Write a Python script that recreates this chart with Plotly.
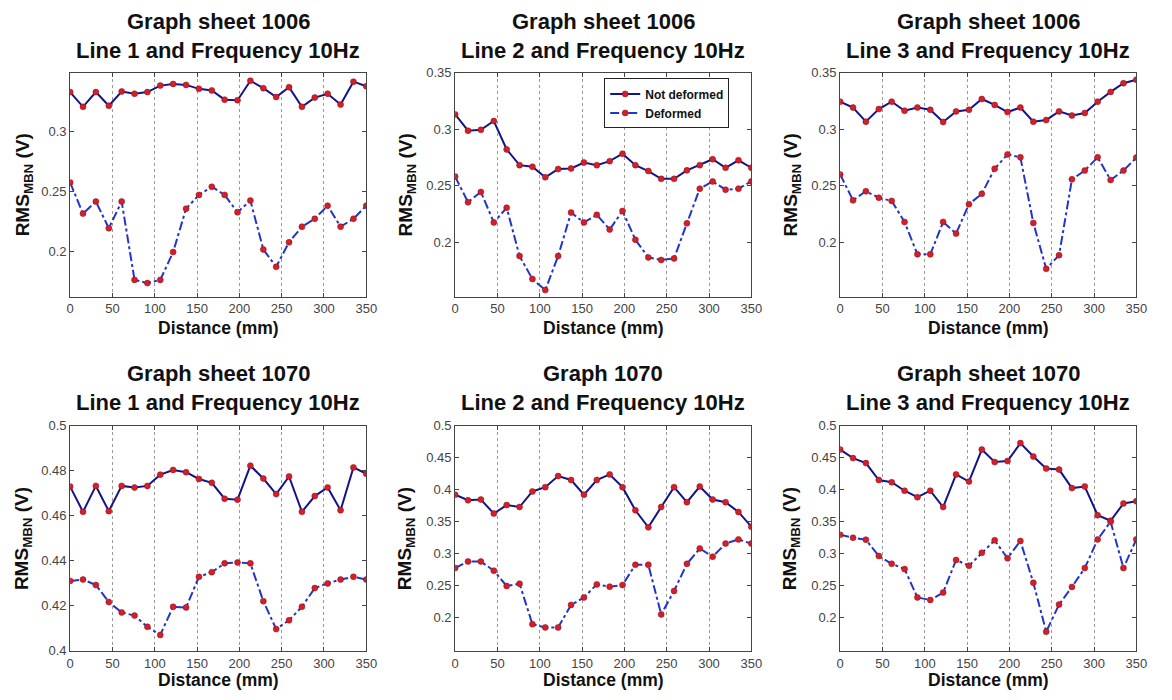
import plotly.graph_objects as go

W, H = 1172, 700

distance = [0, 15.2, 30.4, 45.7, 60.9, 76.1, 91.3, 106.5, 121.7, 137.0, 152.2, 167.4,
            182.6, 197.8, 213.0, 228.3, 243.5, 258.7, 273.9, 289.1, 304.3, 319.6, 334.8, 350]
x_ticks = [0, 50, 100, 150, 200, 250, 300, 350]

# Graph sheet 1006
s1006_l1_not = [0.3327, 0.3204, 0.3327, 0.3213, 0.3332, 0.3313, 0.3327, 0.3381, 0.3395, 0.3387, 0.3354, 0.3341,
                0.3264, 0.3259, 0.3422, 0.3360, 0.3286, 0.3368, 0.3204, 0.3281, 0.3313, 0.3223, 0.3414, 0.3376]
s1006_l1_def = [0.2572, 0.2313, 0.2414, 0.2191, 0.2414, 0.1760, 0.1733, 0.1760, 0.1992, 0.2354, 0.2469, 0.2537,
                0.2469, 0.2324, 0.2422, 0.2014, 0.1869, 0.2074, 0.2204, 0.2270, 0.2379, 0.2204, 0.2270, 0.2379]
s1006_l2_not = [0.3130, 0.2986, 0.2994, 0.3072, 0.2821, 0.2682, 0.2668, 0.2575, 0.2647, 0.2653, 0.2705, 0.2682,
                0.2717, 0.2783, 0.2682, 0.2630, 0.2561, 0.2561, 0.2636, 0.2682, 0.2734, 0.2659, 0.2725, 0.2659]
s1006_l2_def = [0.2581, 0.2355, 0.2445, 0.2176, 0.2306, 0.1879, 0.1676, 0.1578, 0.1879, 0.2263, 0.2176, 0.2243,
                0.2113, 0.2277, 0.2023, 0.1867, 0.1844, 0.1858, 0.2168, 0.2474, 0.2538, 0.2465, 0.2474, 0.2538]
s1006_l3_not = [0.3243, 0.3191, 0.3066, 0.3177, 0.3243, 0.3163, 0.3191, 0.3171, 0.3063, 0.3157, 0.3171, 0.3266,
                0.3214, 0.3151, 0.3191, 0.3066, 0.3080, 0.3157, 0.3120, 0.3143, 0.3243, 0.3329, 0.3406, 0.3437]
s1006_l3_def = [0.2600, 0.2371, 0.2451, 0.2394, 0.2366, 0.2180, 0.1894, 0.1894, 0.2180, 0.2077, 0.2337, 0.2429,
                0.2651, 0.2777, 0.2751, 0.2171, 0.1766, 0.1886, 0.2557, 0.2634, 0.2751, 0.2551, 0.2634, 0.2749]
# Graph sheet 1070
s1070_l1_not = [0.4730, 0.4618, 0.4733, 0.4621, 0.4733, 0.4726, 0.4733, 0.4783, 0.4804, 0.4794, 0.4764, 0.4747,
                0.4676, 0.4672, 0.4823, 0.4766, 0.4697, 0.4775, 0.4618, 0.4688, 0.4726, 0.4625, 0.4815, 0.4787]
s1070_l1_def = [0.4311, 0.4317, 0.4293, 0.4217, 0.4171, 0.4157, 0.4107, 0.4071, 0.4196, 0.4193, 0.4329, 0.4350,
                0.4389, 0.4393, 0.4389, 0.4221, 0.4097, 0.4136, 0.4196, 0.4279, 0.4300, 0.4317, 0.4329, 0.4317]
s1070_l2_not = [0.3923, 0.3837, 0.3847, 0.3628, 0.3760, 0.3730, 0.3974, 0.4041, 0.4214, 0.4153, 0.3923, 0.4153,
                0.4240, 0.4041, 0.3679, 0.3413, 0.3730, 0.4041, 0.3806, 0.4051, 0.3847, 0.3806, 0.3653, 0.3423]
s1070_l2_def = [0.2776, 0.2878, 0.2878, 0.2735, 0.2495, 0.2531, 0.1898, 0.1847, 0.1847, 0.2199, 0.2316, 0.2520,
                0.2485, 0.2510, 0.2827, 0.2827, 0.2051, 0.2418, 0.2842, 0.3082, 0.2954, 0.3158, 0.3224, 0.3158]
s1070_l3_not = [0.4628, 0.4495, 0.4418, 0.4153, 0.4117, 0.3985, 0.3883, 0.3985, 0.3730, 0.4240, 0.4128, 0.4628,
                0.4434, 0.4449, 0.4730, 0.4520, 0.4332, 0.4316, 0.4026, 0.4051, 0.3602, 0.3515, 0.3786, 0.3821]
s1070_l3_def = [0.3296, 0.3250, 0.3219, 0.2964, 0.2842, 0.2760, 0.2316, 0.2276, 0.2393, 0.2903, 0.2811, 0.3015,
                0.3209, 0.2929, 0.3199, 0.2546, 0.1781, 0.2204, 0.2480, 0.2776, 0.3224, 0.3500, 0.2776, 0.3224]

titles_line1 = ["Graph sheet 1006", "Graph sheet 1006", "Graph sheet 1006",
                "Graph sheet 1070", "Graph 1070", "Graph sheet 1070"]
titles_line2 = ["Line 1 and Frequency 10Hz", "Line 2 and Frequency 10Hz", "Line 3 and Frequency 10Hz",
                "Line 1 and Frequency 10Hz", "Line 2 and Frequency 10Hz", "Line 3 and Frequency 10Hz"]
series_not = [s1006_l1_not, s1006_l2_not, s1006_l3_not, s1070_l1_not, s1070_l2_not, s1070_l3_not]
series_def = [s1006_l1_def, s1006_l2_def, s1006_l3_def, s1070_l1_def, s1070_l2_def, s1070_l3_def]

y_ranges = [[0.162, 0.349], [0.152, 0.35], [0.152, 0.35], [0.4, 0.5], [0.148, 0.5], [0.148, 0.5]]
y_tickvals = [[0.2, 0.25, 0.3], [0.2, 0.25, 0.3, 0.35], [0.2, 0.25, 0.3, 0.35],
              [0.4, 0.42, 0.44, 0.46, 0.48, 0.5],
              [0.2, 0.25, 0.3, 0.35, 0.4, 0.45, 0.5], [0.2, 0.25, 0.3, 0.35, 0.4, 0.45, 0.5]]
y_ticktext = [["0.2", "0.25", "0.3"], ["0.2", "0.25", "0.3", "0.35"], ["0.2", "0.25", "0.3", "0.35"],
              ["0.4", "0.42", "0.44", "0.46", "0.48", "0.5"],
              ["0.2", "0.25", "0.3", "0.35", "0.4", "0.45", "0.5"],
              ["0.2", "0.25", "0.3", "0.35", "0.4", "0.45", "0.5"]]

# layout in pixels
col_px = [(67, 367), (457, 757), (847, 1147)]
row_px = [(67, 296), (428, 658)]
title_px = [(15, 44), (375, 404)]
xtitle_px = [328, 688]
ytitle_px = [20, 408, 798]

FONT = "Liberation Sans, Arial, sans-serif"
NAVY = "#14148a"
BLUE = "#2335c8"
RED = "#d21f2b"

fig = go.Figure()
annotations = []
for i in range(6):
    r, c = divmod(i, 3)
    n = i + 1
    xa = "x" if n == 1 else f"x{n}"
    ya = "y" if n == 1 else f"y{n}"
    show = (i == 1)
    fig.add_trace(go.Scatter(
        x=distance, y=series_not[i], xaxis=xa, yaxis=ya, mode="lines+markers",
        name="<b>Not deformed</b>", showlegend=show,
        line=dict(color=NAVY, width=2),
        marker=dict(color=RED, size=6, line=dict(color="#8a1010", width=0.5))))
    fig.add_trace(go.Scatter(
        x=distance, y=series_def[i], xaxis=xa, yaxis=ya, mode="lines+markers",
        name="<b>Deformed</b>", showlegend=show,
        line=dict(color=BLUE, width=2, dash="dashdot"),
        marker=dict(color=RED, size=6, line=dict(color="#8a1010", width=0.5))))

    x0, x1 = col_px[c]
    y0, y1 = row_px[r]
    xkey = "xaxis" if n == 1 else f"xaxis{n}"
    ykey = "yaxis" if n == 1 else f"yaxis{n}"
    fig.layout[xkey] = dict(
        domain=[x0 / W, x1 / W], anchor=ya, range=[0, 350],
        tickmode="array", tickvals=x_ticks, ticktext=[str(v) for v in x_ticks],
        ticks="inside", ticklen=4, tickcolor="#444", mirror="ticks",
        showline=True, linecolor="#444", linewidth=1,
        showgrid=True, gridcolor="#9a9a9a", griddash="dot", gridwidth=1,
        zeroline=False, tickfont=dict(family=FONT, size=13, color="#444"))
    fig.layout[ykey] = dict(
        domain=[1 - y1 / H, 1 - y0 / H], anchor=xa, range=y_ranges[i],
        tickmode="array", tickvals=y_tickvals[i], ticktext=y_ticktext[i],
        ticks="inside", ticklen=4, tickcolor="#444", mirror="ticks",
        showline=True, linecolor="#444", linewidth=1,
        showgrid=False, zeroline=False, tickfont=dict(family=FONT, size=13, color="#444"))

    cx = (x0 + x1) / 2 / W
    t1, t2 = title_px[r]
    annotations.append(dict(text=f"<b>{titles_line1[i]}</b>", x=cx, y=1 - t1 / H, xref="paper", yref="paper",
                            xanchor="center", yanchor="middle", showarrow=False,
                            font=dict(family=FONT, size=22, color="#111")))
    annotations.append(dict(text=f"<b>{titles_line2[i]}</b>", x=cx, y=1 - t2 / H, xref="paper", yref="paper",
                            xanchor="center", yanchor="middle", showarrow=False,
                            font=dict(family=FONT, size=22, color="#111")))
    annotations.append(dict(text="<b>Distance (mm)</b>", x=cx, y=1 - xtitle_px[r] / H, xref="paper", yref="paper",
                            xanchor="center", yanchor="middle", showarrow=False,
                            font=dict(family=FONT, size=17.5, color="#111")))
    annotations.append(dict(text="<b>RMS<sub>MBN</sub> (V)</b>", x=ytitle_px[c] / W, y=1 - (y0 + y1) / 2 / H,
                            xref="paper", yref="paper", xanchor="center", yanchor="middle",
                            textangle=-90, showarrow=False,
                            font=dict(family=FONT, size=19, color="#111")))

fig.update_layout(
    width=W, height=H, margin=dict(l=0, r=0, t=0, b=0),
    paper_bgcolor="white", plot_bgcolor="white",
    annotations=annotations,
    showlegend=True,
    legend=dict(x=608 / W, y=1 - 73 / H, xanchor="left", yanchor="top",
                bgcolor="white", bordercolor="#222", borderwidth=1,
                font=dict(family=FONT, size=12, color="#111"),
                tracegroupgap=0, itemwidth=30),
)

fig.write_html("out.html")
